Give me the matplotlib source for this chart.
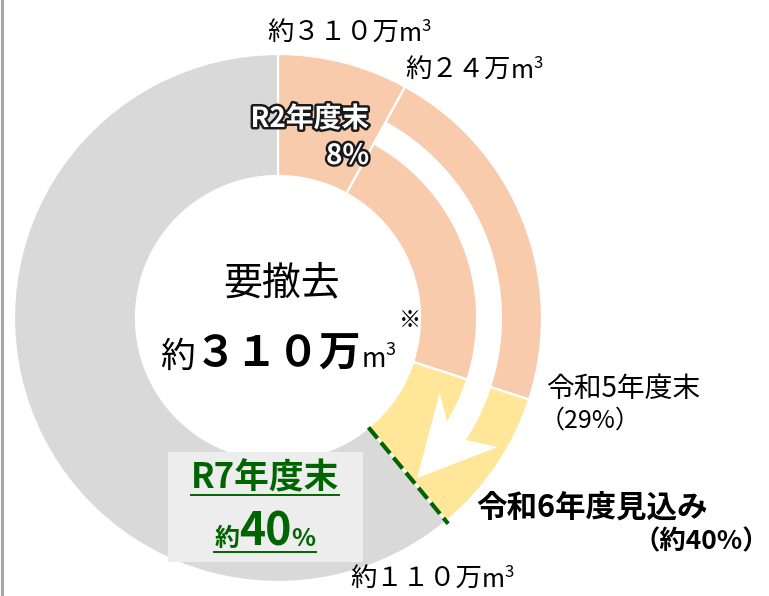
import numpy as np
import matplotlib.pyplot as plt
from matplotlib.patches import Rectangle, Polygon
import matplotlib.patheffects as pe

plt.rcParams['font.family'] = ['Noto Sans CJK JP', 'DejaVu Sans']

# --- data (cumulative % of the ~310万m3 to remove) ---
progress_pct = [8, 30, 39]          # R2 end, R5 end, R6 forecast (boundaries as drawn)
ring_colors = ['#F8CBAD', '#F8CBAD', '#FFE699', '#D9D9D9']
shares = np.diff([0] + progress_pct + [100])

W, H = 769, 596
fig = plt.figure(figsize=(W / 100, H / 100), dpi=100)
ax = fig.add_axes([0, 0, 1, 1])

cx, cy = 278, H - 318
R_out, R_in = 264, 142

ax.pie(shares, colors=ring_colors, startangle=90, counterclock=False,
       radius=R_out, center=(cx, cy),
       wedgeprops=dict(width=R_out - R_in, edgecolor='white', linewidth=1.6))
ax.set_xlim(0, W)
ax.set_ylim(0, H)
ax.set_aspect('equal')
ax.axis('off')


def polar(r, deg):
    # deg measured clockwise from 12 o'clock
    t = np.radians(deg)
    return cx + r * np.sin(t), cy + r * np.cos(t)


# white curved arrow running through the ring
a0 = progress_pct[0] / 100 * 360
inner = [polar(198, a) for a in np.linspace(a0, 121.5, 60)]
outer = [polar(224, a) for a in np.linspace(123, a0, 60)]
head = [polar(178, 114.8), polar(212, 139), polar(255, 120.4)]
ax.add_patch(Polygon(inner + head + outer, closed=True, fc='white', ec='none'))

# dashed green marker at the R6 forecast
a2 = progress_pct[2] / 100 * 360
x1, y1 = polar(R_in, a2)
x2, y2 = polar(R_out + 3, a2)
ax.plot([x1, x2], [y1, y2], color='#006400', lw=3, dashes=(3.4, 1.3),
        solid_capstyle='butt')

# thin frame line on the left edge
ax.plot([1.5, 1.5], [0, H], color='#A6A6A6', lw=2.2)

# R7 box
ax.add_patch(Rectangle((168, H - 562), 195, 110, fc='#EDEDED', ec='none'))

renderer = fig.canvas.get_renderer()


def run(x, y_px, parts, ha='left'):
    # parts: (text, props) or (text, props, raise_px)
    y = H - y_px
    texts, widths = [], []
    for p in parts:
        s, kw = p[0], p[1]
        dy = p[2] if len(p) > 2 else 0
        t = ax.text(0, y + dy, s, va='baseline', ha='left', **kw)
        texts.append(t)
        widths.append(t.get_window_extent(renderer).width)
    total = sum(widths)
    x0 = x - {'left': 0, 'center': total / 2, 'right': total}[ha]
    xx = x0
    for t, w in zip(texts, widths):
        t.set_x(xx)
        xx += w
    return x0, x0 + total


def volume(x, y_px, num, size=19):
    return run(x, y_px, [(num, dict(fontsize=size)),
                         ('m', dict(fontsize=18)),
                         ('3', dict(fontsize=12), 10)])


volume(267, 41, '約３１０万')
volume(405, 78, '約２４万')
volume(350, 587, '約１１０万')

halo = [pe.withStroke(linewidth=3.5, foreground='#1a1a1a')]
run(369, 127, [('R2年度末', dict(fontsize=20, fontweight='bold', color='white',
                                 path_effects=halo))], ha='right')
run(369, 164, [('8%', dict(fontsize=20, fontweight='bold', color='white',
                           path_effects=halo))], ha='right')

run(282, 294, [('要撤去', dict(fontsize=28))], ha='center')
run(160, 367, [('約', dict(fontsize=25)),
               ('３１０万', dict(fontsize=30, fontweight='bold')),
               ('m', dict(fontsize=19)),
               ('3', dict(fontsize=13), 12)])
run(399, 327, [('※', dict(fontsize=16))])

run(546, 397, [('令和5年度末', dict(fontsize=20))])
run(540, 428, [('（29%）', dict(fontsize=18))])
run(476, 517, [('令和6年度見込み', dict(fontsize=22, fontweight='bold'))])
run(769, 549, [('（約40%）', dict(fontsize=19, fontweight='bold'))], ha='right')

green = '#006400'
u0, u1 = run(265, 488, [('R7年度末', dict(fontsize=25, fontweight='bold',
                                         color=green))], ha='center')
ax.plot([u0, u1], [H - 495, H - 495], color=green, lw=1.4)
u0, u1 = run(265, 546, [('約', dict(fontsize=18, fontweight='bold', color=green)),
                        ('40', dict(fontsize=32, fontweight='bold', color=green)),
                        ('%', dict(fontsize=18, fontweight='bold', color=green))],
             ha='center')
ax.plot([u0, u1], [H - 552, H - 552], color=green, lw=1.4)

fig.savefig('out.png', dpi=100)
